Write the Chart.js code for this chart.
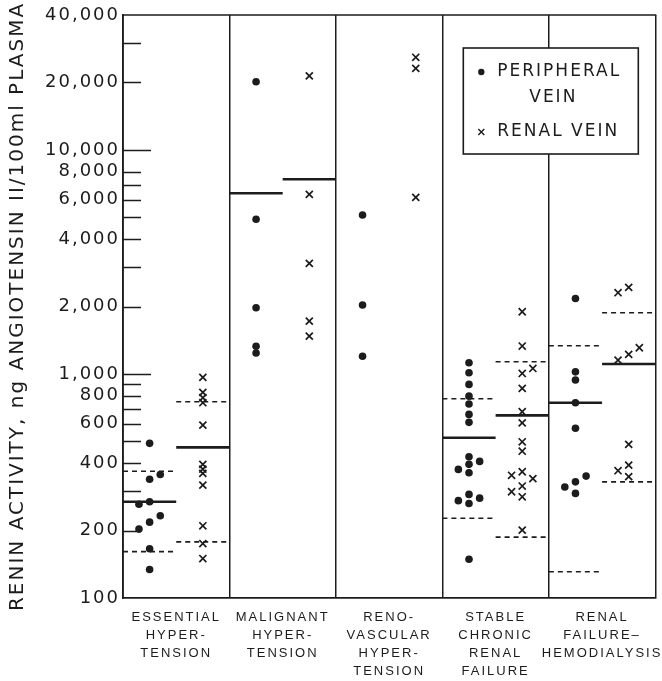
<!DOCTYPE html>
<html><head><meta charset="utf-8">
<script src="https://cdn.jsdelivr.net/npm/chart.js@4/dist/chart.umd.min.js"></script>
<style>html,body{margin:0;padding:0;background:#fff;}canvas{display:block;}</style>
</head><body>
<canvas id="c" width="662" height="681"></canvas>
<script>
// ---------- data ----------
const categories = [
  ["ESSENTIAL", "HYPER-", "TENSION"],
  ["MALIGNANT", "HYPER-", "TENSION"],
  ["RENO-", "VASCULAR", "HYPER-", "TENSION"],
  ["STABLE", "CHRONIC", "RENAL", "FAILURE"],
  ["RENAL", "FAILURE–", "HEMODIALYSIS"]
];
const yTitle = "RENIN ACTIVITY, ng ANGIOTENSIN II/100ml PLASMA";
const yLabelValues = [100, 200, 400, 600, 800, 1000, 2000, 4000, 6000, 8000, 10000, 20000, 40000];
const yInnerTicks = [200, 300, 400, 500, 600, 700, 800, 900, 1000, 2000, 3000, 4000, 5000, 6000, 7000, 8000, 10000, 20000, 30000];
const yLongTicks = [1000, 10000];
const legendLabels = [["PERIPHERAL", "VEIN"], "RENAL VEIN"];

// peripheral vein values per group; side: -1 left, 0 centre, 1 right of column
const periphValues = [
  [490, 356, 339, 269, 262, 233, 218, 203, 166, 134],
  [20150, 4900, 1975, 1330, 1240],
  [5120, 2030, 1200],
  [1122, 1012, 898, 796, 734, 660, 608, 427, 407, 395, 375, 362, 290, 279, 272, 264, 149],
  [2173, 1022, 939, 744, 572, 350, 330, 313, 293]
];
const periphSide = [
  [0, 1, 0, 0, -1, 1, 0, -1, 0, 0],
  [0, 0, 0, 0, 0],
  [0, 0, 0],
  [0, 0, 0, 0, 0, 0, 0, 0, 1, 0, -1, 0, 0, 1, -1, 0, 0],
  [0, 0, 0, 0, 0, 1, 0, -1, 0]
];
// renal vein values per group
const renalValues = [
  [965, 827, 783, 744, 591, 395, 376, 360, 319, 210, 175, 150],
  [21400, 6330, 3115, 1722, 1475],
  [25900, 23100, 6140],
  [1895, 1332, 1058, 1005, 862, 678, 605, 498, 452, 366, 353, 341, 316, 298, 283, 201],
  [2434, 2304, 1309, 1222, 1153, 485, 392, 370, 348]
];
const renalSide = [
  [0, 0, 0, 0, 0, 0, 0, 0, 0, 0, 0, 0],
  [0, 0, 0, 0, 0],
  [0, 0, 0],
  [0, 0, 1, 0, 0, 0, 0, 0, 0, 0, -1, 1, 0, -1, 0, 0],
  [0, -1, 1, 0, -1, 0, 0, -1, 0]
];
// group means (solid) and mean ± SD (dashed)
const periphMean  = [269, 6400, null, 519, 744];
const periphUpper = [368, null, null, 775, 1336];
const periphLower = [161, null, null, 227, 131];
const renalMean   = [470, 7400, null, 653, 1107];
const renalUpper  = [751, null, null, 1133, 1876];
const renalLower  = [178, null, null, 187, 330];

// ---------- build ----------
const SLOT = 0.2;
function points(values, sides, off) {
  return values.flatMap((arr, g) => arr.map((v, k) => ({x: 2 * g + off + sides[g][k] * SLOT, y: v})));
}
function segments(list, off) {
  const out = [];
  list.forEach(vals => vals.forEach((v, g) => {
    if (v == null) return;
    out.push({x: 2 * g + off, y: v}, {x: 2 * g + off + 1, y: v}, {x: 2 * g + off + 1, y: null});
  }));
  return out;
}
const INK = '#1c1c1c';

// warm up the fonts before the chart measures text
const warm = document.createElement('canvas').getContext('2d');
['18px "DejaVu Sans"', '20px "DejaVu Sans"', '13px "Liberation Sans"'].forEach(f => { warm.font = f; warm.measureText('0,A'); });

const spacing = {
  id: 'spacing',
  beforeLayout(chart) { chart.ctx.letterSpacing = '2px'; },
  beforeDraw(chart) { chart.ctx.letterSpacing = '2px'; }
};
const frame = {
  id: 'frame',
  afterDraw(chart) {
    const {ctx, chartArea: a} = chart;
    const ys = chart.scales.y;
    ctx.save();
    ctx.strokeStyle = INK;
    ctx.lineWidth = 1.6;
    ctx.beginPath();
    ctx.moveTo(a.left - 1, a.top); ctx.lineTo(a.right + 1, a.top);
    yInnerTicks.forEach(v => {
      const py = Math.round(ys.getPixelForValue(v)) + 0.5;
      const len = yLongTicks.includes(v) ? 28 : 18;
      ctx.moveTo(a.left, py); ctx.lineTo(a.left + len, py);
    });
    ctx.stroke();
    // legend box
    const L = a.right - 192, T = a.top + 33, W = 175, H = 106;
    ctx.fillStyle = '#fff';
    ctx.fillRect(L, T, W, H);
    ctx.strokeRect(L, T, W, H);
    ctx.fillStyle = INK;
    ctx.font = '17px "DejaVu Sans"';
    ctx.letterSpacing = '2px';
    ctx.textBaseline = 'middle';
    ctx.textAlign = 'left';
    ctx.fillText(legendLabels[0][0], L + 34, T + 24);
    ctx.textAlign = 'center';
    ctx.fillText(legendLabels[0][1], L + 90, T + 50);
    ctx.textAlign = 'left';
    ctx.fillText(legendLabels[1], L + 34, T + 84);
    ctx.beginPath();
    ctx.arc(L + 18, T + 24, 3.2, 0, Math.PI * 2);
    ctx.fill();
    ctx.lineWidth = 1.4;
    ctx.beginPath();
    ctx.moveTo(L + 15, T + 81); ctx.lineTo(L + 21, T + 87);
    ctx.moveTo(L + 21, T + 81); ctx.lineTo(L + 15, T + 87);
    ctx.stroke();
    ctx.restore();
  }
};

const ch = new Chart(document.getElementById('c'), {
  type: 'scatter',
  data: {
    datasets: [
      {label: 'Peripheral vein', data: points(periphValues, periphSide, 0.5),
       pointStyle: 'circle', pointRadius: 3.8, backgroundColor: INK, borderWidth: 0},
      {label: 'Renal vein', data: points(renalValues, renalSide, 1.5),
       pointStyle: 'crossRot', pointRadius: 5, borderColor: INK, borderWidth: 1.7},
      {label: 'Mean', data: segments([periphMean], 0).concat(segments([renalMean], 1)),
       showLine: true, spanGaps: false, pointRadius: 0, borderColor: INK, borderWidth: 2.6},
      {label: 'SD', data: segments([periphUpper, periphLower], 0).concat(segments([renalUpper, renalLower], 1)),
       showLine: true, spanGaps: false, pointRadius: 0, borderColor: INK, borderWidth: 1.6, borderDash: [5, 4]}
    ]
  },
  options: {
    responsive: false,
    animation: false,
    devicePixelRatio: 1,
    layout: {padding: {top: 15, right: 6, left: 0, bottom: 0}},
    plugins: {legend: {display: false}, tooltip: {enabled: false}},
    scales: {
      x: {
        type: 'linear', min: 0, max: 10,
        afterFit: s => { s.height = 83; s.paddingLeft = 0; s.paddingRight = 0; },
        ticks: {
          stepSize: 1, autoSkip: false, maxRotation: 0, padding: 10,
          callback: v => (v % 2 === 1 ? categories[(v - 1) / 2] : ''),
          color: INK, font: {family: '"Liberation Sans"', size: 13, lineHeight: 1.4}
        },
        grid: {
          drawTicks: false, lineWidth: 1.5,
          color: c => (c.tick && c.tick.value % 2 === 0 ? INK : 'rgba(0,0,0,0)')
        },
        border: {display: true, color: INK, width: 1.8}
      },
      y: {
        type: 'logarithmic', min: 100, max: 40000,
        afterFit: s => { s.width = 123; },
        afterBuildTicks: s => { s.ticks = yLabelValues.map(v => ({value: v})); },
        ticks: {
          padding: 3, color: INK,
          callback: v => Number(v).toLocaleString('en-US'),
          font: {family: '"DejaVu Sans"', size: 18}
        },
        grid: {display: false, drawTicks: false},
        border: {display: true, color: INK, width: 1.8},
        title: {
          display: true, text: yTitle, color: INK,
          font: {family: '"DejaVu Sans"', size: 20},
          padding: {top: 6, bottom: 0}
        }
      }
    }
  },
  plugins: [spacing, frame]
});
if (document.fonts && document.fonts.load) {
  Promise.all(['18px "DejaVu Sans"', '20px "DejaVu Sans"', '17px "DejaVu Sans"', '13px "Liberation Sans"']
    .map(f => document.fonts.load(f))).then(() => ch.update()).catch(() => {});
}
</script>
</body></html>
